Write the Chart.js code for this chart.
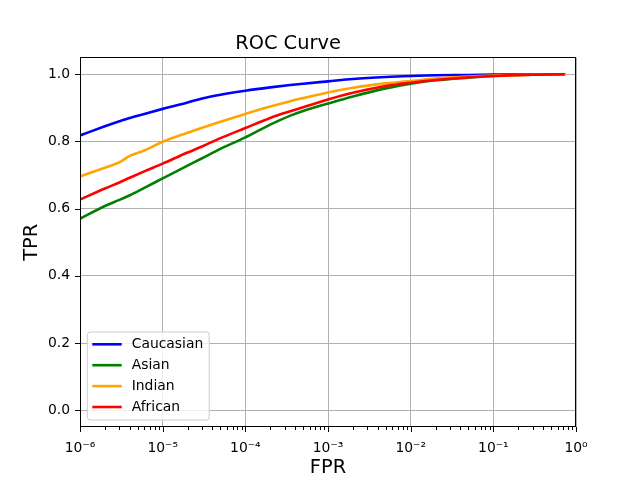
<!DOCTYPE html>
<html>
<head>
<meta charset="utf-8">
<script src="https://cdn.jsdelivr.net/npm/chart.js@4.4.1/dist/chart.umd.min.js"></script>
<style>
  html, body { margin: 0; padding: 0; background: #fff; }
  #wrap { width: 640px; height: 480px; }
</style>
</head>
<body>
<div id="wrap"><canvas id="roc" width="640" height="480"></canvas></div>
<script>
// false positive rates (shared by most curves)
const fpr = [1e-6, 2e-6, 3e-6, 4e-6, 6e-6, 1e-5, 2e-5, 3e-5, 5e-5, 1e-4, 2e-4, 3.5e-4, 5e-4,
             1e-3, 2e-3, 5e-3, 1e-2, 2e-2, 5e-2, 1e-1, 3e-1, 0.73];
const fprIndian = [1e-6, 2e-6, 3e-6, 4e-6, 6e-6, 1e-5, 2e-5, 3e-5, 5e-5, 1e-4, 2e-4, 3.5e-4, 5e-4,
                   1e-3, 2e-3, 5e-3, 1e-2, 2e-2, 5e-2, 1e-1, 3e-1, 0.76];

const tprCaucasian = [0.818, 0.845, 0.860, 0.870, 0.882, 0.897, 0.916, 0.928, 0.939, 0.951, 0.961, 0.968, 0.972,
                      0.979, 0.986, 0.992, 0.995, 0.997, 0.998, 0.999, 1.0, 1.0];
const tprAsian     = [0.570, 0.608, 0.626, 0.640, 0.662, 0.690, 0.728, 0.750, 0.778, 0.812, 0.850, 0.877, 0.891,
                      0.913, 0.934, 0.958, 0.972, 0.982, 0.990, 0.995, 0.999, 1.0];
const tprIndian    = [0.696, 0.722, 0.738, 0.757, 0.773, 0.799, 0.826, 0.841, 0.859, 0.882, 0.904, 0.920, 0.929,
                      0.946, 0.960, 0.973, 0.980, 0.987, 0.993, 0.996, 0.999, 1.0];
const tprAfrican   = [0.627, 0.660, 0.678, 0.692, 0.711, 0.734, 0.767, 0.785, 0.810, 0.840, 0.870, 0.890, 0.902,
                      0.925, 0.945, 0.965, 0.975, 0.983, 0.991, 0.995, 0.999, 1.0];

const xMajorTicks = [1e-6, 1e-5, 1e-4, 1e-3, 1e-2, 1e-1, 1];
const xTickLabels = ['10⁻⁶', '10⁻⁵', '10⁻⁴', '10⁻³', '10⁻²', '10⁻¹', '10⁰'];
const yTicks = [0, 0.2, 0.4, 0.6, 0.8, 1.0];

const FONT = '"DejaVu Sans", sans-serif';
const GRID = '#b0b0b0';

const toPoints = (xs, ys) => xs.map((x, i) => ({ x, y: ys[i] }));

// black frame round the plot area plus outward tick marks, matplotlib style
const frameAndTicks = {
    id: 'frameAndTicks',
    afterDatasetsDraw(chart) {
        const { ctx, chartArea: a, scales } = chart;
        ctx.save();
        ctx.strokeStyle = '#000';
        ctx.lineWidth = 1;
        ctx.beginPath();
        scales.x.ticks.forEach(t => {
            const px = Math.round(scales.x.getPixelForValue(t.value)) + 0.5;
            ctx.moveTo(px, a.bottom);
            ctx.lineTo(px, a.bottom + (t.major ? 5 : 3));
        });
        scales.y.ticks.forEach(t => {
            const py = Math.round(scales.y.getPixelForValue(t.value)) + 0.5;
            ctx.moveTo(a.left - 5, py);
            ctx.lineTo(a.left, py);
        });
        ctx.stroke();
        ctx.strokeRect(Math.round(a.left) + 0.5, Math.round(a.top) + 0.5,
                       Math.round(a.right - a.left) - 1, Math.round(a.bottom - a.top) - 1);
        ctx.restore();
    }
};

// legend box in the lower left corner of the plot area
const innerLegend = {
    id: 'innerLegend',
    afterDraw(chart) {
        const { ctx, chartArea: a } = chart;
        const sets = chart.data.datasets;
        ctx.save();
        ctx.font = '13.9px ' + FONT;
        const textW = Math.max(...sets.map(d => ctx.measureText(d.label).width));
        const rowH = 20.9;
        const boxH = 12.3 + rowH * (sets.length - 1) + 13;
        const x0 = a.left + 7.3;
        const y0 = a.bottom - 7 - boxH;
        const boxW = 44.4 + textW + 6;
        ctx.beginPath();
        if (ctx.roundRect) ctx.roundRect(x0, y0, boxW, boxH, 3);
        else ctx.rect(x0, y0, boxW, boxH);
        ctx.fillStyle = 'rgba(255,255,255,0.8)';
        ctx.fill();
        ctx.strokeStyle = '#cccccc';
        ctx.lineWidth = 1;
        ctx.stroke();
        ctx.textBaseline = 'middle';
        ctx.textAlign = 'left';
        sets.forEach((d, i) => {
            const y = y0 + 12.3 + i * rowH;
            ctx.strokeStyle = d.borderColor;
            ctx.lineWidth = 2.6;
            ctx.beginPath();
            ctx.moveTo(x0 + 5, y);
            ctx.lineTo(x0 + 34.4, y);
            ctx.stroke();
            ctx.fillStyle = '#000';
            ctx.fillText(d.label, x0 + 44.4, y + 0.5);
        });
        ctx.restore();
    }
};

const line = (label, xs, ys, color, order) => ({
    label,
    data: toPoints(xs, ys),
    borderColor: color,
    backgroundColor: color,
    borderWidth: 2.6,
    pointRadius: 0,
    cubicInterpolationMode: 'monotone',
    fill: false,
    order,
});

new Chart(document.getElementById('roc'), {
    type: 'line',
    data: {
        datasets: [
            line('Caucasian', fpr, tprCaucasian, '#0000ff', 3),
            line('Asian', fpr, tprAsian, '#008000', 2),
            line('Indian', fprIndian, tprIndian, '#ffa500', 1),
            line('African', fpr, tprAfrican, '#ff0000', 0),
        ],
    },
    options: {
        responsive: false,
        animation: false,
        devicePixelRatio: 1,
        layout: { padding: { left: 0, right: 64, top: 0, bottom: 0 } },
        plugins: {
            legend: { display: false },
            tooltip: { enabled: false },
            title: {
                display: true,
                text: 'ROC Curve',
                color: '#000',
                font: { family: FONT, size: 19.4, weight: 'normal' },
                padding: { top: 32.5, bottom: 1.7 },
            },
        },
        scales: {
            x: {
                type: 'logarithmic',
                min: 1e-6,
                max: 1,
                afterBuildTicks(scale) {
                    const ticks = [];
                    xMajorTicks.forEach((v, i) => {
                        ticks.push({ value: v, major: true });
                        if (i < xMajorTicks.length - 1) {
                            for (let m = 2; m <= 9; m++) ticks.push({ value: v * m, major: false });
                        }
                    });
                    scale.ticks = ticks;
                },
                afterFit(scale) { scale.height = 53; },
                grid: {
                    color: c => (c.tick && c.tick.major ? GRID : 'rgba(0,0,0,0)'),
                    lineWidth: 1,
                    drawTicks: false,
                },
                border: { display: false },
                ticks: {
                    autoSkip: false,
                    maxRotation: 0,
                    padding: 13,
                    color: '#000',
                    font: { family: FONT, size: 13.9 },
                    callback(value) {
                        const i = xMajorTicks.findIndex(v => Math.abs(Math.log10(v) - Math.log10(value)) < 1e-6);
                        return i >= 0 ? xTickLabels[i] : '';
                    },
                },
                title: {
                    display: true,
                    text: 'FPR',
                    color: '#000',
                    font: { family: FONT, size: 19.4 },
                    padding: { top: 0, bottom: 0 },
                },
            },
            y: {
                type: 'linear',
                min: -0.05,
                max: 1.05,
                afterBuildTicks(scale) {
                    scale.ticks = yTicks.map(v => ({ value: v }));
                },
                afterFit(scale) { scale.width = 80; },
                grid: { color: GRID, lineWidth: 1, drawTicks: false },
                border: { display: false },
                ticks: {
                    padding: 10,
                    color: '#000',
                    font: { family: FONT, size: 13.9 },
                    callback: v => Number(v).toFixed(1),
                },
                title: {
                    display: true,
                    text: 'TPR',
                    color: '#000',
                    font: { family: FONT, size: 19.4 },
                    padding: { top: 20, bottom: 0 },
                },
            },
        },
    },
    plugins: [frameAndTicks, innerLegend],
});
</script>
</body>
</html>
